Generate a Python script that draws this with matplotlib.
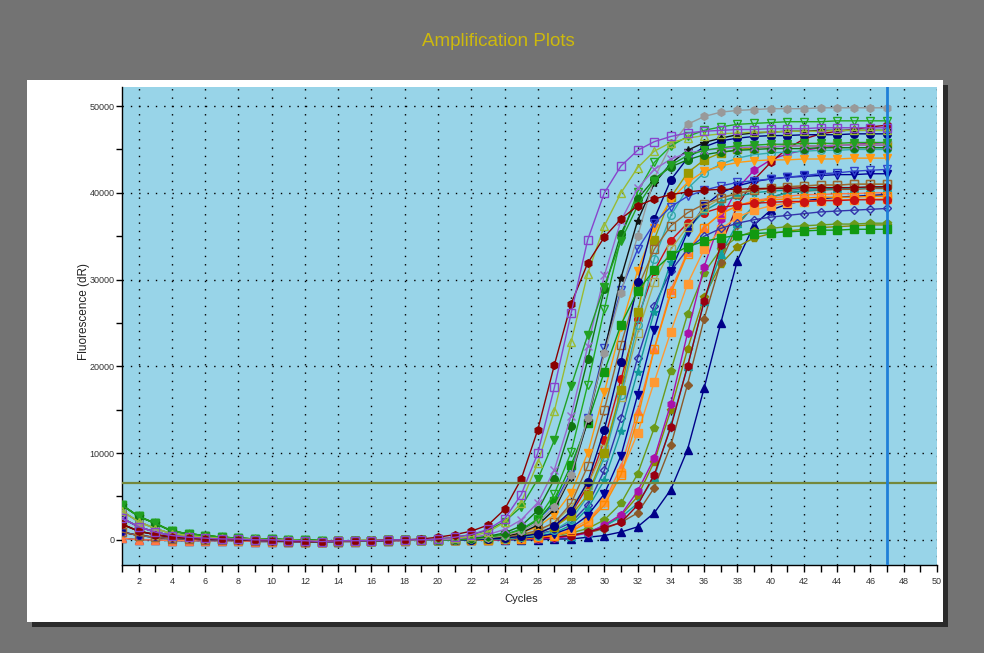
import matplotlib
matplotlib.use("Agg")
import matplotlib.pyplot as plt
from matplotlib.patches import Rectangle
from matplotlib.ticker import MultipleLocator

plt.rcParams["font.family"] = ["Liberation Sans", "DejaVu Sans"]

# ---------------- data ----------------
cycles = list(range(1, 48))
threshold = 6570
marker_cycle = 47
x_ticks = list(range(2, 51, 2))
y_ticks = [0, 10000, 20000, 30000, 40000, 50000]

# baseline readings for cycles 1..18
early_hi = [4000, 2700, 1900, 1000, 700, 500, 300, 200, 100, 100, 0, 0, -100, -100, -100, -100, 0, 0]
early_mh = [3300, 2100, 1300, 700, 500, 300, 200, 100, 100, 0, 0, -100, -100, -100, -100, 0, 0, 0]
early_mid = [2500, 1500, 900, 500, 300, 200, 100, 100, 0, 0, -100, -100, -200, -100, -100, -100, 0, 0]
early_ml = [1800, 1000, 600, 300, 200, 100, 100, 0, 0, -100, -100, -200, -200, -100, -100, -100, 0, 0]
early_lo = [900, 500, 300, 100, 100, 0, 0, 0, -100, -100, -200, -200, -200, -200, -100, -100, -100, 0]
early_vlo = [200, 0, 0, -100, -100, -100, -100, -100, -200, -200, -200, -300, -200, -200, -200, -100, -100, -100]

# readings for cycles 19..47
purple_sq = early_mid + [0, 100, 300, 600, 1200, 2400, 5200, 10000, 17600, 26100,
                         34600, 40000, 43100, 44900, 45900, 46500, 46900, 47100, 47200, 47300,
                         47300, 47400, 47400, 47400, 47500, 47500, 47500, 47500, 47500]
dkred_hex = early_ml + [100, 300, 600, 1000, 1700, 3500, 7000, 12700, 20200, 27200,
                        31900, 34900, 37000, 38500, 39300, 39800, 40100, 40300, 40400, 40400,
                        40500, 40500, 40500, 40600, 40600, 40600, 40600, 40700, 40700]
lgreen_tri = early_mh + [0, 100, 200, 400, 900, 2000, 4300, 8900, 14900, 22800,
                         30700, 36200, 40000, 42900, 44800, 45800, 46300, 46600, 46800, 46900,
                         47000, 47000, 47100, 47100, 47100, 47200, 47200, 47200, 47200]
green_tridown = early_hi + [0, 100, 300, 600, 1100, 2100, 3800, 7000, 11500, 17700,
                            23600, 29200, 34500, 38500, 41400, 43200, 44300, 44900, 45200, 45400,
                            45500, 45600, 45600, 45700, 45700, 45700, 45800, 45800, 45800]
purple_x = early_mid + [0, 0, 100, 300, 600, 1200, 2300, 4300, 8100, 14300,
                        22300, 30500, 36800, 40500, 42700, 43900, 44600, 44900, 45100, 45200,
                        45300, 45300, 45400, 45400, 45400, 45500, 45500, 45500, 45500]
green_tridown_open = early_hi + [0, 0, 0, 100, 300, 600, 1200, 2400, 5300, 10100,
                                 17900, 26600, 34800, 40100, 43500, 45400, 46500, 47200, 47600, 47900,
                                 48000, 48100, 48200, 48200, 48200, 48300, 48300, 48300, 48300]
gray_hex = early_mh + [0, 0, 0, 100, 200, 500, 1000, 2000, 3800, 7500,
                       14000, 21500, 28500, 35000, 41700, 45500, 47900, 48800, 49300, 49500,
                       49600, 49700, 49700, 49700, 49800, 49800, 49800, 49800, 49800]
black_star = early_ml + [0, 0, 0, 100, 200, 400, 800, 1700, 3500, 7300,
                         13700, 21700, 30200, 36800, 41100, 43400, 44900, 45800, 46300, 46700,
                         46900, 47000, 47100, 47100, 47200, 47200, 47200, 47200, 47200]
navy_circle = early_mid + [0, 0, 0, 0, 100, 200, 400, 700, 1600, 3300,
                           6700, 12700, 20500, 29700, 37000, 41500, 44000, 45300, 46000, 46300,
                           46500, 46600, 46600, 46700, 46700, 46700, 46800, 46800, 46800]
teal_star = early_mh + [0, 0, 0, 0, 100, 100, 200, 400, 800, 1700,
                        3600, 6900, 12500, 19400, 26300, 32000, 35800, 37900, 39000, 39600,
                        40000, 40200, 40300, 40400, 40500, 40500, 40600, 40600, 40700]
green_sq = early_hi + [0, 0, 100, 200, 300, 600, 1100, 2300, 4500, 8600,
                       13500, 19400, 24800, 28700, 31100, 32800, 33800, 34400, 34800, 35100,
                       35300, 35400, 35500, 35600, 35700, 35700, 35800, 35800, 35800]
olive_sq = early_mid + [0, 0, 0, 100, 100, 200, 400, 800, 1500, 2800,
                        5200, 10000, 17300, 26300, 34600, 39500, 42300, 43800, 44600, 45000,
                        45200, 45300, 45400, 45400, 45400, 45500, 45500, 45500, 45500]
lolive_sq_open = early_ml + [0, 0, 0, 100, 100, 300, 500, 1000, 2000, 3800,
                             6300, 10500, 16500, 23800, 29700, 33500, 36100, 38200, 39400, 40000,
                             40400, 40600, 40700, 40800, 40900, 40900, 41000, 41000, 41000]
blue_tridown_open = early_ml + [0, 0, 100, 200, 300, 600, 1200, 2300, 4200, 7800,
                                14000, 22100, 28800, 33500, 36500, 38400, 39600, 40300, 40800, 41200,
                                41400, 41600, 41800, 42000, 42200, 42300, 42500, 42600, 42700]
navy_tridown = early_lo + [0, 0, 0, 0, 100, 100, 200, 400, 700, 1400,
                           2800, 5300, 9700, 16700, 24200, 31000, 35500, 38500, 40000, 40800,
                           41300, 41600, 41800, 41900, 42000, 42100, 42100, 42200, 42200]
orange_tridown = early_ml + [0, 0, 100, 100, 200, 400, 800, 1500, 2900, 5400,
                             10000, 17000, 24500, 31000, 36000, 39200, 41200, 42500, 43100, 43500,
                             43700, 43800, 43800, 43900, 43900, 43900, 44000, 44000, 44000]
brown_sq_open = early_lo + [0, 0, 0, 100, 200, 300, 600, 1100, 2000, 4200,
                            8500, 15000, 22500, 29000, 33500, 36200, 37700, 38700, 39400, 39900,
                            40300, 40500, 40700, 40800, 40900, 40900, 41000, 41000, 41000]
orange_sq = early_mid + [0, 0, 0, 0, 0, 100, 200, 300, 600, 1200,
                         2300, 4400, 7700, 12300, 18200, 24000, 29500, 33500, 35800, 37200,
                         38000, 38500, 38800, 39000, 39100, 39200, 39200, 39300, 39300]
orange_sq_open = early_ml + [0, 0, 0, 0, 0, 100, 100, 300, 500, 1000,
                             2000, 4000, 7500, 14000, 22000, 28400, 33000, 36000, 37600, 38500,
                             39000, 39200, 39300, 39400, 39500, 39500, 39500, 39600, 39600]
red_circle = early_mh + [0, 0, 0, 100, 100, 200, 400, 800, 1500, 3000,
                         6200, 11500, 18500, 25500, 31000, 34500, 36500, 37700, 38300, 38600,
                         38800, 38900, 39000, 39000, 39100, 39100, 39200, 39200, 39200]
blue_diamond_open = early_lo + [0, 0, 0, 100, 100, 200, 400, 700, 1100, 2000,
                                4000, 8000, 14000, 21000, 27000, 31000, 33500, 35000, 35900, 36500,
                                36900, 37200, 37400, 37600, 37800, 37900, 38000, 38100, 38200]
magenta_hex = early_lo + [0, 0, 0, 0, 0, 0, 100, 100, 200, 400,
                          800, 1700, 2900, 5600, 9400, 15700, 23800, 31500, 37000, 40500,
                          42600, 43800, 44500, 44900, 45200, 45400, 45600, 45700, 45800]
dkred_hex_late = early_ml + [0, 0, 0, 0, 0, 100, 100, 200, 300, 500,
                             900, 1400, 2000, 4000, 7500, 13000, 20000, 27500, 34000, 38500,
                             41500, 43500, 45100, 46200, 46800, 47100, 47300, 47600, 47800]
navy_tri = early_vlo + [0, 0, 0, 0, 0, 0, 0, 0, 100, 100,
                        300, 500, 900, 1500, 3100, 5800, 10400, 17500, 25000, 32200,
                        36300, 38000, 38700, 39100, 39300, 39500, 39600, 39700, 39800]
olive_pent = early_hi + [0, 0, 0, 0, 0, 100, 100, 200, 300, 500,
                         900, 1500, 2800, 5000, 9000, 15000, 22000, 28000, 31800, 33800,
                         34800, 35300, 35600, 35800, 36000, 36100, 36200, 36300, 36300]
green_pent = early_hi + [0, 0, 0, 0, 100, 100, 200, 300, 500, 800,
                         1300, 2300, 4200, 7600, 12900, 19500, 26000, 30800, 33500, 34900,
                         35600, 35900, 36100, 36200, 36300, 36400, 36400, 36500, 36500]
teal_tri = early_mid + [0, 0, 0, 0, 0, 100, 100, 200, 300, 500,
                        900, 1600, 2600, 4200, 7200, 13200, 20000, 27500, 33000, 36500,
                        38500, 39500, 40000, 40200, 40400, 40500, 40600, 40600, 40700]
brown_diamond = early_lo + [0, 0, 0, 0, 0, 0, 100, 200, 300, 500,
                            800, 1300, 2000, 3100, 6000, 10900, 17900, 25500, 32000, 36300,
                            38500, 39500, 40000, 40200, 40300, 40400, 40400, 40500, 40500]
dkgreen_circle = early_hi + [0, 0, 100, 200, 400, 800, 1600, 3400, 7000, 13100,
                             20800, 28900, 35300, 39300, 41600, 43000, 43800, 44400, 44700, 44900,
                             45000, 45100, 45100, 45100, 45200, 45200, 45200, 45200, 45200]
coral_tri = early_vlo + [0, 0, 0, 0, 0, 100, 100, 200, 500, 1000,
                         2000, 4400, 8400, 14800, 22000, 28800, 33200, 36000, 37600, 38500,
                         39100, 39400, 39600, 39800, 39800, 39900, 39900, 40000, 40000]
teal_circle_open = early_mid + [0, 0, 0, 0, 100, 100, 300, 500, 1100, 2300,
                                5000, 9500, 16700, 24800, 32400, 37400, 40500, 42300, 43300, 44000,
                                44400, 44600, 44700, 44800, 44900, 44900, 45000, 45000, 45000]

series = [navy_tri, olive_pent, green_pent, brown_diamond, teal_tri, coral_tri,
          magenta_hex, dkred_hex_late, orange_sq, orange_sq_open, blue_diamond_open,
          red_circle, teal_star, navy_tridown, lolive_sq_open, teal_circle_open,
          olive_sq, brown_sq_open, orange_tridown, navy_circle, blue_tridown_open,
          green_sq, black_star, gray_hex, green_tridown_open, dkgreen_circle,
          purple_x, green_tridown, lgreen_tri, dkred_hex, purple_sq]

# styles (colour, marker, filled) in the same order
styles = [("#000088", "^", True), ("#888800", "p", True), ("#6a9a1a", "p", True),
          ("#8b5a2b", "D", True), ("#11a0a0", "^", True), ("#ff7744", "^", True),
          ("#aa11aa", "h", True), ("#990011", "h", True), ("#ff9933", "s", True),
          ("#ff8800", "s", False), ("#3333aa", "D", False), ("#cc1111", "o", True),
          ("#119999", "*", True), ("#000099", "v", True), ("#aaaa55", "s", False),
          ("#33aaaa", "o", False), ("#999900", "s", True), ("#996633", "s", False),
          ("#ff9911", "v", True), ("#000080", "o", True), ("#3344cc", "v", False),
          ("#119911", "s", True), ("#111111", "*", True), ("#999999", "h", True),
          ("#22aa22", "v", False), ("#117711", "o", True), ("#9966cc", "x", True),
          ("#22a022", "v", True), ("#99bb33", "^", False), ("#8b0000", "h", True),
          ("#8844cc", "s", False)]

# ---------------- figure ----------------
W, H = 984, 653
fig = plt.figure(figsize=(W / 100, H / 100), dpi=100, facecolor="#737373")

# shadow and white panel (drawn behind the axes)
fig.patches.append(Rectangle((32 / W, 1 - 627 / H), 916 / W, 542 / H,
                             transform=fig.transFigure, facecolor="#2b2b2b",
                             edgecolor="none", zorder=-2))
fig.patches.append(Rectangle((27 / W, 1 - 622 / H), 916 / W, 542 / H,
                             transform=fig.transFigure, facecolor="white",
                             edgecolor="none", zorder=-1))

ax = fig.add_axes([122 / W, 1 - 565 / H, (937 - 122) / W, (565 - 87) / H])
ax.set_zorder(5)
ax.set_facecolor("#98d4e8")

for vals, (col, mk, filled) in zip(series, styles):
    ms = 5.5 if mk not in ("D", "x", "*") else (4.2 if mk == "D" else 6)
    ax.plot(cycles, vals, color=col, lw=1.0, marker=mk, ms=ms,
            mfc=col if filled else "none", mec=col, mew=1.0, zorder=3)

ax.axhline(threshold, color="#74883c", lw=1.6, zorder=4)
ax.axvline(marker_cycle, color="#1f7fd8", lw=2.0, zorder=5)

ax.set_xlim(1, 50)
ax.set_ylim(-2900, 52200)
ax.set_xticks(x_ticks)
ax.set_xticklabels([str(t) for t in x_ticks])
ax.xaxis.set_minor_locator(MultipleLocator(1))
ax.set_yticks(y_ticks)
ax.set_yticklabels([str(t) for t in y_ticks])
ax.yaxis.set_minor_locator(MultipleLocator(5000))

ax.set_axisbelow(True)
ax.grid(True, which="major", color="black", linestyle=(0, (1, 5)), linewidth=1.0)

for s in ("top", "right"):
    ax.spines[s].set_visible(False)
for s in ("left", "bottom"):
    ax.spines[s].set_color("black")
    ax.spines[s].set_linewidth(1.0)

ax.tick_params(axis="x", which="both", direction="out", length=5, width=1,
               colors="black", labelsize=6.5, labelcolor="#333333", pad=4)
ax.tick_params(axis="y", which="both", direction="out", length=4, width=1,
               colors="black", labelsize=6.5, labelcolor="#333333", pad=1.5)

fig.text(498 / W, 1 - 42 / H, "Amplification Plots", ha="center", va="center",
         fontsize=13.5, color="#cdb90c")
fig.text(84 / W, 1 - 312 / H, "Fluorescence (dR)", ha="center", va="center",
         rotation=90, fontsize=8.5, color="#222222")
fig.text(521 / W, 1 - 599 / H, "Cycles", ha="center", va="center",
         fontsize=8, color="#222222")

fig.savefig("out.png", dpi=100, facecolor=fig.get_facecolor())
